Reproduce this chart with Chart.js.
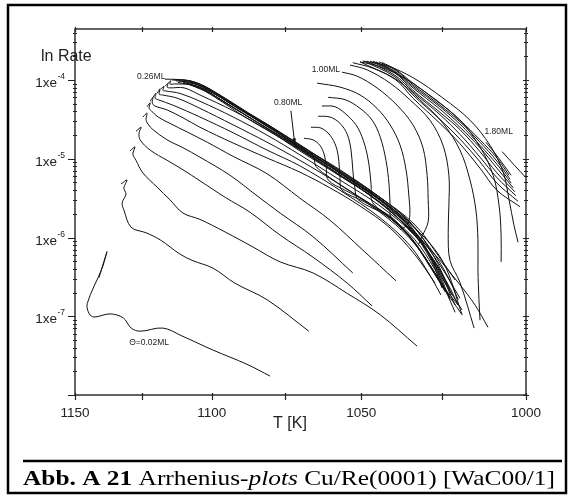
<!DOCTYPE html>
<html>
<head>
<meta charset="utf-8">
<script src="https://cdn.jsdelivr.net/npm/chart.js@4.4.1/dist/chart.umd.min.js"></script>
<style>
  html, body { margin: 0; padding: 0; background: #fff; }
  #plot { display: block; }
</style>
</head>
<body>
<canvas id="plot" width="570" height="496"></canvas>
<script>
// Arrhenius plots: x = 1000/T (1/K), y = log10(rate)

// low coverage curves, 0.02 ML upwards
const lowCoverage = [
  [[0.8765,-6.51],[0.8788,-6.18],[0.8774,-6.39],[0.8731,-6.84],[0.8737,-6.97],[0.8751,-7.01],[0.8797,-6.97],[0.8835,-7.02],[0.8858,-7.15],[0.8884,-7.19],[0.8950,-7.15],[0.9005,-7.25],[0.9095,-7.43],[0.9193,-7.61],[0.9260,-7.76]],
  [[0.8829,-5.32],[0.8846,-5.27],[0.8837,-5.37],[0.8843,-5.45],[0.8832,-5.56],[0.8837,-5.65],[0.8858,-5.87],[0.8901,-5.94],[0.8942,-6.03],[0.8999,-6.21],[0.9034,-6.29],[0.9095,-6.39],[0.9158,-6.58],[0.9251,-6.79],[0.9372,-7.19]],
  [[0.8855,-4.90],[0.8869,-4.85],[0.8863,-4.94],[0.8872,-5.02],[0.8892,-5.18],[0.8933,-5.36],[0.8970,-5.52],[0.9008,-5.69],[0.9057,-5.77],[0.9130,-5.93],[0.9210,-6.12],[0.9289,-6.31],[0.9384,-6.45],[0.9483,-6.71],[0.9578,-6.98],[0.9685,-7.38]],
  [[0.8872,-4.65],[0.8887,-4.60],[0.8881,-4.67],[0.8884,-4.76],[0.8913,-4.89],[0.8962,-5.02],[0.9008,-5.14],[0.9057,-5.28],[0.9130,-5.49],[0.9202,-5.68],[0.9289,-5.97],[0.9384,-6.25],[0.9483,-6.58],[0.9555,-6.87]],
  [[0.8892,-4.47],[0.8904,-4.42],[0.8901,-4.50],[0.8907,-4.56],[0.8921,-4.63],[0.8962,-4.76],[0.9008,-4.86],[0.9057,-4.98],[0.9144,-5.21],[0.9222,-5.47],[0.9289,-5.69],[0.9384,-5.99],[0.9499,-6.45]],
  [[0.8904,-4.34],[0.8913,-4.29],[0.8910,-4.36],[0.8916,-4.39],[0.8936,-4.47],[0.8970,-4.55],[0.9020,-4.66],[0.9078,-4.79],[0.9153,-4.97],[0.9251,-5.19],[0.9346,-5.50],[0.9433,-5.78],[0.9528,-6.16],[0.9624,-6.55]]
];

// curves running together in the main band up to 0.26 ML and beyond
const bundle = [
  [[0.8913,-4.27],[0.8921,-4.22],[0.8919,-4.29],[0.8927,-4.33],[0.8962,-4.38],[0.9008,-4.48],[0.9057,-4.60],[0.9153,-4.80],[0.9251,-4.99],[0.9346,-5.17],[0.9433,-5.37],[0.9520,-5.60],[0.9607,-5.88],[0.9679,-6.22],[0.9737,-6.58]],
  [[0.8921,-4.22],[0.8930,-4.17],[0.8927,-4.23],[0.8936,-4.25],[0.8979,-4.32],[0.9057,-4.47],[0.9153,-4.67],[0.9251,-4.89],[0.9346,-5.09],[0.9462,-5.40],[0.9578,-5.75],[0.9664,-6.10],[0.9722,-6.48],[0.9754,-6.73]],
  [[0.8933,-4.17],[0.8942,-4.11],[0.8939,-4.18],[0.8948,-4.19],[0.8991,-4.23],[0.9057,-4.36],[0.9153,-4.57],[0.9251,-4.79],[0.9346,-5.02],[0.9462,-5.33],[0.9578,-5.68],[0.9664,-6.01],[0.9728,-6.39],[0.9780,-6.76]],
  [[0.8945,-4.11],[0.8953,-4.08],[0.8950,-4.13],[0.8959,-4.14],[0.8999,-4.17],[0.9057,-4.27],[0.9153,-4.47],[0.9251,-4.70],[0.9346,-4.95],[0.9462,-5.27],[0.9578,-5.60],[0.9679,-5.98],[0.9745,-6.39],[0.9795,-6.86]],
  [[0.8956,-4.08],[0.8965,-4.04],[0.8962,-4.09],[0.8970,-4.10],[0.9011,-4.10],[0.9057,-4.19],[0.9153,-4.39],[0.9251,-4.63],[0.9346,-4.90],[0.9462,-5.22],[0.9578,-5.55],[0.9679,-5.93],[0.9751,-6.35],[0.9809,-6.77]],
  [[0.8965,-4.04],[0.8973,-4.01],[0.8970,-4.05],[0.8985,-4.05],[0.9028,-4.06],[0.9078,-4.13],[0.9153,-4.32],[0.9251,-4.58],[0.9346,-4.86],[0.9462,-5.18],[0.9578,-5.52],[0.9679,-5.88],[0.9760,-6.31],[0.9815,-6.98]],
  [[0.8956,-3.99],[0.8976,-3.99],[0.9005,-4.00],[0.9043,-4.04],[0.9086,-4.14],[0.9158,-4.33],[0.9251,-4.56],[0.9346,-4.83],[0.9462,-5.14],[0.9578,-5.49],[0.9679,-5.84],[0.9751,-6.26],[0.9795,-6.54]],
  [[0.8976,-4.00],[0.9014,-4.00],[0.9057,-4.05],[0.9115,-4.19],[0.9202,-4.43],[0.9317,-4.74],[0.9433,-5.07],[0.9549,-5.40],[0.9650,-5.75],[0.9722,-6.13],[0.9772,-6.48],[0.9804,-6.79]],
  [[0.8988,-4.01],[0.9028,-4.03],[0.9072,-4.09],[0.9130,-4.24],[0.9216,-4.48],[0.9332,-4.79],[0.9448,-5.12],[0.9563,-5.45],[0.9664,-5.80],[0.9731,-6.22],[0.9780,-6.67]],
  [[0.8996,-4.01],[0.9037,-4.04],[0.9086,-4.13],[0.9150,-4.30],[0.9237,-4.55],[0.9346,-4.85],[0.9462,-5.17],[0.9578,-5.51],[0.9664,-5.84],[0.9728,-6.29],[0.9766,-6.67]],
  [[0.9008,-4.03],[0.9049,-4.06],[0.9101,-4.18],[0.9173,-4.38],[0.9260,-4.61],[0.9375,-4.93],[0.9491,-5.27],[0.9607,-5.63],[0.9693,-6.01],[0.9751,-6.48],[0.9780,-6.79]],
  [[0.9017,-4.04],[0.9057,-4.09],[0.9110,-4.23],[0.9187,-4.44],[0.9289,-4.71],[0.9404,-5.02],[0.9520,-5.35],[0.9630,-5.70],[0.9708,-6.13],[0.9766,-6.58],[0.9815,-6.92]],
  [[0.9023,-4.05],[0.9072,-4.13],[0.9130,-4.29],[0.9216,-4.52],[0.9317,-4.79],[0.9433,-5.12],[0.9549,-5.46],[0.9650,-5.83],[0.9737,-6.22],[0.9809,-6.60],[0.9853,-6.86],[0.9890,-7.14]],
  [[0.9028,-4.06],[0.9086,-4.17],[0.9158,-4.36],[0.9245,-4.60],[0.9346,-4.88],[0.9462,-5.21],[0.9578,-5.56],[0.9670,-5.93],[0.9742,-6.35],[0.9786,-6.73]],
  [[0.8993,-4.03],[0.9043,-4.08],[0.9101,-4.22],[0.9187,-4.47],[0.9303,-4.77],[0.9419,-5.09],[0.9534,-5.42],[0.9636,-5.78],[0.9717,-6.18],[0.9775,-6.60],[0.9804,-6.86]],
  [[0.8982,-4.00],[0.9028,-4.01],[0.9078,-4.10],[0.9144,-4.28],[0.9231,-4.52],[0.9341,-4.83],[0.9456,-5.16],[0.9572,-5.50],[0.9659,-5.85],[0.9728,-6.31],[0.9757,-6.64]]
];

// S-shaped curves around 0.80 ML that drop into the band
const midCoverage = [
  [[0.9332,-4.85],[0.9355,-4.86],[0.9375,-4.91],[0.9387,-5.00],[0.9393,-5.10],[0.9433,-5.24],[0.9520,-5.49],[0.9607,-5.74],[0.9679,-6.03],[0.9737,-6.41],[0.9772,-6.71]],
  [[0.9358,-4.74],[0.9384,-4.76],[0.9404,-4.83],[0.9416,-4.94],[0.9422,-5.09],[0.9428,-5.27],[0.9477,-5.40],[0.9549,-5.57],[0.9636,-5.85],[0.9708,-6.26],[0.9766,-6.67],[0.9795,-6.95]],
  [[0.9378,-4.60],[0.9407,-4.61],[0.9433,-4.70],[0.9451,-4.85],[0.9459,-5.04],[0.9462,-5.24],[0.9468,-5.40],[0.9534,-5.55],[0.9621,-5.80],[0.9693,-6.16],[0.9751,-6.57],[0.9815,-6.98]],
  [[0.9399,-4.46],[0.9433,-4.47],[0.9462,-4.55],[0.9483,-4.69],[0.9494,-4.89],[0.9499,-5.14],[0.9505,-5.37],[0.9514,-5.52],[0.9592,-5.71],[0.9664,-5.99],[0.9728,-6.41],[0.9780,-6.76]],
  [[0.9410,-4.33],[0.9448,-4.34],[0.9486,-4.46],[0.9514,-4.61],[0.9534,-4.83],[0.9546,-5.08],[0.9552,-5.33],[0.9557,-5.56],[0.9621,-5.78],[0.9693,-6.16],[0.9757,-6.60],[0.9804,-6.86]],
  [[0.9428,-4.22],[0.9477,-4.25],[0.9520,-4.36],[0.9555,-4.51],[0.9578,-4.72],[0.9595,-5.02],[0.9604,-5.33],[0.9607,-5.59],[0.9610,-5.75],[0.9664,-5.98],[0.9722,-6.35],[0.9766,-6.69]],
  [[0.9396,-4.04],[0.9462,-4.09],[0.9520,-4.19],[0.9569,-4.36],[0.9607,-4.57],[0.9636,-4.83],[0.9653,-5.14],[0.9661,-5.46],[0.9664,-5.71],[0.9656,-5.84],[0.9636,-5.90]]
];

// 1.00 ML to 1.80 ML
const highCoverage = [
  [[0.9468,-3.90],[0.9511,-3.95],[0.9569,-4.10],[0.9627,-4.32],[0.9673,-4.57],[0.9702,-4.86],[0.9714,-5.21],[0.9717,-5.52],[0.9717,-5.80],[0.9699,-5.99],[0.9688,-6.10]],
  [[0.9491,-3.81],[0.9540,-3.87],[0.9607,-4.04],[0.9664,-4.25],[0.9722,-4.51],[0.9760,-4.83],[0.9777,-5.21],[0.9777,-5.59],[0.9775,-5.94],[0.9780,-6.29],[0.9809,-6.57],[0.9850,-7.15]],
  [[0.9499,-3.78],[0.9557,-3.85],[0.9627,-4.00],[0.9693,-4.25],[0.9760,-4.55],[0.9809,-4.89],[0.9838,-5.27],[0.9855,-5.65],[0.9861,-6.03],[0.9861,-6.41],[0.9864,-6.79],[0.9867,-7.05]],
  [[0.9520,-3.77],[0.9578,-3.83],[0.9658,-4.00],[0.9731,-4.23],[0.9809,-4.51],[0.9867,-4.85],[0.9905,-5.21],[0.9922,-5.59],[0.9928,-5.97],[0.9928,-6.31]],
  [[0.9528,-3.76],[0.9598,-3.82],[0.9673,-3.97],[0.9760,-4.23],[0.9838,-4.51],[0.9896,-4.83],[0.9934,-5.17],[0.9951,-5.52],[0.9965,-5.84],[0.9977,-6.06]],
  [[0.9520,-3.77],[0.9621,-3.99],[0.9673,-4.23],[0.9751,-4.55],[0.9809,-4.81],[0.9867,-5.12],[0.9916,-5.40],[0.9983,-5.61]],
  [[0.9531,-3.76],[0.9621,-3.96],[0.9673,-4.19],[0.9751,-4.50],[0.9809,-4.75],[0.9867,-5.04],[0.9916,-5.31],[0.9977,-5.54]],
  [[0.9540,-3.76],[0.9621,-3.94],[0.9673,-4.15],[0.9751,-4.44],[0.9809,-4.69],[0.9867,-4.98],[0.9916,-5.24],[0.9971,-5.47]],
  [[0.9549,-3.76],[0.9621,-3.91],[0.9673,-4.13],[0.9751,-4.41],[0.9809,-4.63],[0.9867,-4.91],[0.9916,-5.18],[0.9968,-5.42]],
  [[0.9557,-3.76],[0.9621,-3.90],[0.9673,-4.10],[0.9751,-4.37],[0.9809,-4.60],[0.9867,-4.86],[0.9916,-5.12],[0.9963,-5.37]],
  [[0.9566,-3.77],[0.9621,-3.89],[0.9673,-4.08],[0.9751,-4.34],[0.9809,-4.56],[0.9867,-4.83],[0.9916,-5.07],[0.9957,-5.31]],
  [[0.9575,-3.77],[0.9621,-3.87],[0.9673,-4.06],[0.9751,-4.32],[0.9809,-4.53],[0.9867,-4.79],[0.9916,-5.03],[0.9954,-5.26]],
  [[0.9584,-3.78],[0.9621,-3.86],[0.9673,-4.04],[0.9751,-4.29],[0.9809,-4.51],[0.9867,-4.76],[0.9916,-4.99],[0.9951,-5.21]],
  [[0.9884,-4.79],[0.9919,-4.98],[0.9957,-5.21]],
  [[0.9931,-4.91],[0.9968,-5.09],[1.0000,-5.24]]
];

// axis ticks
const tempTicks = [1150, 1125, 1100, 1075, 1050, 1025, 1000];
const tempLabels = [1150, 1100, 1050, 1000];
const decades = [-8, -7, -6, -5, -4];
const decadeLabels = [-7, -6, -5, -4];

// coverage notes in data coordinates
const notes = [
  { text: '0.26ML', x: 0.8916, y: -3.96 },
  { text: '0.80ML', x: 0.9312, y: -4.29 },
  { text: '1.00ML', x: 0.9421, y: -3.87 },
  { text: '1.80ML', x: 0.9921, y: -4.66 },
  { text: '\u0398=0.02ML', x: 0.8910, y: -7.33 }
];
const arrow080 = { from: [0.9320, -4.39], to: [0.9332, -4.84] };

const curves = [...lowCoverage, ...bundle, ...midCoverage, ...highCoverage];
const SANS = '"Liberation Sans", Arial, sans-serif';
const SERIF = '"Liberation Serif", "Times New Roman", serif';

const frame = {
  id: 'frame',
  afterDraw(chart) {
    const { ctx, chartArea: a, scales: { x, y } } = chart;
    ctx.save();

    // page border and caption rule
    ctx.strokeStyle = '#000';
    ctx.lineWidth = 2.5;
    ctx.strokeRect(8, 5, 558, 488);
    ctx.beginPath();
    ctx.moveTo(23, 461);
    ctx.lineTo(562, 461);
    ctx.stroke();

    // axis box
    ctx.lineWidth = 1.4;
    ctx.strokeStyle = '#222';
    ctx.strokeRect(a.left, a.top, a.right - a.left, a.bottom - a.top);

    // temperature ticks, bottom and top
    ctx.lineWidth = 1.2;
    ctx.beginPath();
    tempTicks.forEach(t => {
      const px = Math.round(x.getPixelForValue(1000 / t)) + 0.5;
      ctx.moveTo(px, a.bottom - 2); ctx.lineTo(px, a.bottom + 5);
      ctx.moveTo(px, a.top - 2); ctx.lineTo(px, a.top + 3);
    });
    ctx.stroke();

    // rate ticks, left and right
    ctx.beginPath();
    decades.forEach(d => {
      const py = Math.round(y.getPixelForValue(d)) + 0.5;
      ctx.moveTo(a.left - 7, py); ctx.lineTo(a.left, py);
      ctx.moveTo(a.right - 3, py); ctx.lineTo(a.right + 3, py);
      for (let k = 2; k <= 9; k++) {
        const v = d + Math.log10(k);
        if (v > y.max) break;
        const pm = Math.round(y.getPixelForValue(v)) + 0.5;
        ctx.moveTo(a.left - 2, pm); ctx.lineTo(a.left + 2, pm);
        ctx.moveTo(a.right - 2, pm); ctx.lineTo(a.right + 2, pm);
      }
    });
    ctx.stroke();

    // tick labels
    ctx.fillStyle = '#222';
    ctx.font = `13.5px ${SANS}`;
    ctx.textAlign = 'center';
    ctx.textBaseline = 'alphabetic';
    tempLabels.forEach(t => {
      ctx.fillText(String(t), x.getPixelForValue(1000 / t), 417);
    });
    decadeLabels.forEach(d => {
      const py = y.getPixelForValue(d);
      ctx.font = `13.5px ${SANS}`;
      ctx.textAlign = 'right';
      ctx.fillText('1xe', 57, py + 7);
      ctx.font = `8.5px ${SANS}`;
      ctx.textAlign = 'left';
      ctx.fillText(String(d), 57.5, py - 1);
    });

    // axis titles
    ctx.font = `16px ${SANS}`;
    ctx.textAlign = 'left';
    ctx.fillText('ln Rate', 41, 61);
    ctx.textAlign = 'center';
    ctx.fillText('T [K]', 290, 428);

    // coverage notes
    ctx.font = `8.5px ${SANS}`;
    ctx.textBaseline = 'middle';
    notes.forEach(n => {
      ctx.fillText(n.text, x.getPixelForValue(n.x), y.getPixelForValue(n.y));
    });

    // arrow to the 0.80 ML curve
    const x0 = x.getPixelForValue(arrow080.from[0]), y0 = y.getPixelForValue(arrow080.from[1]);
    const x1 = x.getPixelForValue(arrow080.to[0]), y1 = y.getPixelForValue(arrow080.to[1]);
    ctx.strokeStyle = '#111';
    ctx.lineWidth = 1;
    ctx.beginPath();
    ctx.moveTo(x0, y0); ctx.lineTo(x1, y1);
    ctx.stroke();
    const ang = Math.atan2(y1 - y0, x1 - x0);
    ctx.beginPath();
    ctx.moveTo(x1, y1);
    ctx.lineTo(x1 - 8 * Math.cos(ang - 0.22), y1 - 8 * Math.sin(ang - 0.22));
    ctx.lineTo(x1 - 8 * Math.cos(ang + 0.22), y1 - 8 * Math.sin(ang + 0.22));
    ctx.closePath();
    ctx.fillStyle = '#111';
    ctx.fill();

    // caption, stretched to the width of the rule
    ctx.textBaseline = 'alphabetic';
    ctx.textAlign = 'left';
    ctx.fillStyle = '#000';
    const parts = [
      ['bold ', 'Abb. A 21'],
      ['', ' Arrhenius-'],
      ['italic ', 'plots'],
      ['', ' Cu/Re(0001) [WaC00/1]']
    ];
    let total = 0;
    parts.forEach(([style, txt]) => {
      ctx.font = `${style}22px ${SERIF}`;
      total += ctx.measureText(txt).width;
    });
    ctx.translate(23, 485);
    ctx.scale(532 / total, 1);
    let cx = 0;
    parts.forEach(([style, txt]) => {
      ctx.font = `${style}22px ${SERIF}`;
      ctx.fillText(txt, cx, 0);
      cx += ctx.measureText(txt).width;
    });

    ctx.restore();
  }
};

new Chart(document.getElementById('plot'), {
  type: 'line',
  data: {
    datasets: curves.map(c => ({
      data: c.map(([u, lg]) => ({ x: u, y: lg })),
      borderColor: '#111',
      borderWidth: 1,
      pointRadius: 0,
      tension: 0.35,
      fill: false
    }))
  },
  options: {
    responsive: false,
    animation: false,
    layout: { padding: { left: 75, right: 44, top: 29, bottom: 101 } },
    plugins: { legend: { display: false }, tooltip: { enabled: false } },
    scales: {
      x: { type: 'linear', display: false, min: 1000 / 1150, max: 1 },
      y: { type: 'linear', display: false, min: -8, max: -4 + 51 / 78.75 }
    }
  },
  plugins: [frame]
});
</script>
</body>
</html>
